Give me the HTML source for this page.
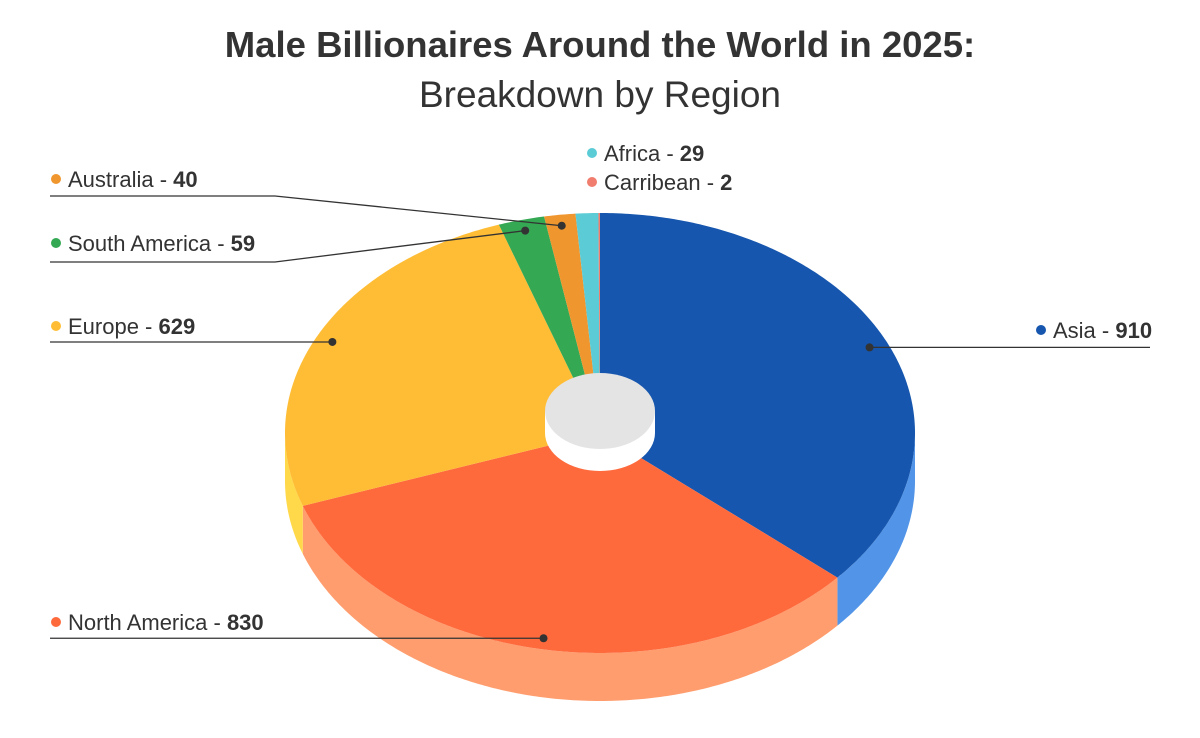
<!DOCTYPE html>
<html><head><meta charset="utf-8">
<style>
body{margin:0;background:#fff;width:1200px;height:733px;overflow:hidden;font-family:"Liberation Sans",sans-serif;}
svg text{font-family:"Liberation Sans",sans-serif;fill:#333;}
</style></head>
<body>
<svg id="chart" width="1200" height="733" viewBox="0 0 1200 733">
<text x="600" y="57" text-anchor="middle" font-size="36.5" font-weight="bold" style="fill:#333">Male Billionaires Around the World in 2025:</text>
<text x="600" y="107" text-anchor="middle" font-size="37" style="fill:#333">Breakdown by Region</text>
<g id="sides"></g><g id="tops"></g><g id="hole"></g><g id="labels"></g>
</svg>
<script>
const categories=["Asia","North America","Europe","South America","Australia","Africa","Carribean"];
const values=[910,830,629,59,40,29,2];
const topColors=["#1656AE","#FF6A3D","#FFBD35","#34A853","#F0962E","#5BCBD6","#F07D6E"];
const sideColors=["#5295E8","#FF9D6E","#FFD94A","#5BC879","#F5B060","#8FDDE5","#F5A59A"];
const NS="http://www.w3.org/2000/svg";
const cx=600,cy=433,rx=315,ry=220,depth=48;
function pt(a,dy){return [cx+rx*Math.sin(a),cy-ry*Math.cos(a)+(dy||0)];}
function arcPts(a1,a2,dy){const p=[];const n=Math.max(2,Math.ceil((a2-a1)/0.01));for(let i=0;i<=n;i++)p.push(pt(a1+(a2-a1)*i/n,dy));return p;}
const total=values.reduce((a,b)=>a+b,0);
const sides=document.getElementById('sides'),tops=document.getElementById('tops'),labels=document.getElementById('labels');
let acc=0;const angles=[];
values.forEach((v,i)=>{const a1=acc/total*2*Math.PI;acc+=v;const a2=acc/total*2*Math.PI;angles.push([a1,a2]);});
angles.forEach(([a1,a2],i)=>{
  const s=Math.max(a1,Math.PI/2),e=Math.min(a2,1.5*Math.PI);
  if(e>s){const t=arcPts(s,e,0),b=arcPts(s,e,depth).reverse();
    const p=document.createElementNS(NS,'path');
    
    
    p.setAttribute('d','M'+t.concat(b).map(q=>q.join(',')).join('L')+'Z');
    p.setAttribute('fill',sideColors[i]);sides.appendChild(p);}
  const ap=arcPts(a1,a2,0);
  const p=document.createElementNS(NS,'path');
  
  
  p.setAttribute('d','M'+cx+','+cy+'L'+ap.map(q=>q.join(',')).join('L')+'Z');
  p.setAttribute('fill',topColors[i]);tops.appendChild(p);
});
const hole=document.getElementById('hole');
hole.innerHTML='<path d="M545,411 L545,433 A55,38 0 0 0 655,433 L655,411 Z" fill="#fff"/><ellipse cx="600" cy="411" rx="55" ry="38" fill="#e4e4e4"/>';


// label layout: [labelX, labelY, lineEndX, elbowX, elbowY, anchorFactor]
const layout=[[1035,338,1150,null,null,0.94],[50,630,50,null,null,0.95],[50,334,50,null,null,0.945],[50,251,50,275,262,0.95],[50,187,50,275,196,0.95],[586,161,null],[586,190,null]];
angles.forEach(([a1,a2],i)=>{
  const L=layout[i];const g=document.createElementNS(NS,'g');
  
  
  let html='';
  if(L[2]!==null){
    const m=(a1+a2)/2,f=L[5];
    const ax=cx+rx*f*Math.sin(m),ay=cy-ry*f*Math.cos(m);
    let d;
    if(L[3]!==null)d='M'+ax+','+ay+'L'+L[3]+','+L[4]+'L'+L[2]+','+L[4];
    else d='M'+ax+','+ay+'L'+L[2]+','+ay;
    html+='<path d="'+d+'" stroke="#333" stroke-width="1.3" fill="none"/><circle cx="'+ax+'" cy="'+ay+'" r="4" fill="#333"/>';
  }
  html+='<circle cx="'+(L[0]+6)+'" cy="'+(L[1]-8)+'" r="5" fill="'+topColors[i]+'"/>';
  html+='<text x="'+(L[0]+18)+'" y="'+L[1]+'" font-size="22">'+categories[i]+' - <tspan font-weight="bold">'+values[i]+'</tspan></text>';
  g.innerHTML=html;labels.appendChild(g);
});
</script>
</body></html>
